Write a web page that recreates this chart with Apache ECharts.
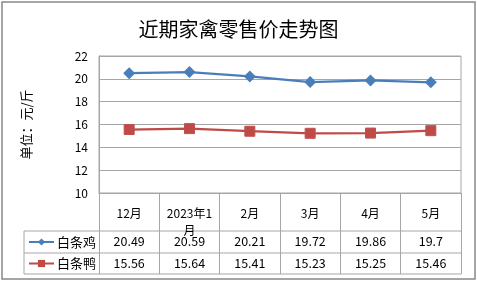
<!DOCTYPE html>
<html><head><meta charset="utf-8">
<script src="https://cdn.jsdelivr.net/npm/echarts@6/dist/echarts.min.js"></script>
<style>html,body{margin:0;padding:0;background:#fff}#c{width:477px;height:283px}</style>
</head><body><div id="c"></div>
<script>
var categories = ['12月', '2023年1\n月', '2月', '3月', '4月', '5月'];
var chicken = [20.49, 20.59, 20.21, 19.72, 19.86, 19.7];
var duck = [15.56, 15.64, 15.41, 15.23, 15.25, 15.46];
var chickenLabels = ['20.49', '20.59', '20.21', '19.72', '19.86', '19.7'];
var duckLabels = ['15.56', '15.64', '15.41', '15.23', '15.25', '15.46'];
var seriesNames = ['白条鸡', '白条鸭'];
var yTicks = [10, 12, 14, 16, 18, 20, 22];

var chart = echarts.init(document.getElementById('c'));
var G = {left: 99, right: 16, top: 56, bottom: 90};
var gridColor = '#a6a6a6';
var font = '"Noto Sans CJK SC", "Liberation Sans", sans-serif';
var tableTop = 193, row1 = 231, row2 = 253, row3 = 274, tableLeft = 24, plotRight = 461;

function hline(y, x1, x2) {
  return {type: 'line', shape: {x1: x1, y1: y, x2: x2, y2: y}, style: {stroke: gridColor, lineWidth: 1}, silent: true};
}
function vline(x, y1, y2) {
  return {type: 'line', shape: {x1: x, y1: y1, x2: x, y2: y2}, style: {stroke: gridColor, lineWidth: 1}, silent: true};
}

var option = {
  animation: false,
  backgroundColor: '#fff',
  title: {
    text: '近期家禽零售价走势图', left: 'center', top: 14,
    textStyle: {fontFamily: font, fontSize: 20, fontWeight: 'normal', color: '#000'}
  },
  legend: {
    orient: 'vertical', left: 28, top: 235, itemGap: 7.5, padding: 0,
    itemWidth: 25, itemHeight: 9,
    data: seriesNames,
    textStyle: {fontFamily: font, fontSize: 13, lineHeight: 14, color: '#000', padding: [0, 0, 0, -2]}
  },
  grid: {left: G.left, right: G.right, top: G.top, bottom: G.bottom, show: true, borderColor: gridColor, borderWidth: 1},
  xAxis: [{
    type: 'category', data: categories, boundaryGap: true,
    axisLine: {lineStyle: {color: gridColor}},
    axisTick: {show: true, interval: 0, length: row3 - tableTop, lineStyle: {color: gridColor}},
    axisLabel: {interval: 0, margin: 12, color: '#000', fontFamily: font, fontSize: 12, lineHeight: 17}
  }, {
    type: 'category', data: chickenLabels, position: 'bottom', offset: row1 - tableTop,
    axisLine: {show: false}, axisTick: {show: false},
    axisLabel: {interval: 0, margin: 4, color: '#000', fontFamily: font, fontSize: 12.5}
  }, {
    type: 'category', data: duckLabels, position: 'bottom', offset: row2 - tableTop,
    axisLine: {show: false}, axisTick: {show: false},
    axisLabel: {interval: 0, margin: 4, color: '#000', fontFamily: font, fontSize: 12.5}
  }],
  yAxis: {
    type: 'value', min: yTicks[0], max: yTicks[yTicks.length - 1], interval: 2,
    name: '单位：元/斤', nameLocation: 'middle', nameGap: 66, nameRotate: 90,
    nameTextStyle: {fontFamily: font, fontSize: 13, color: '#000'},
    axisLine: {show: true, lineStyle: {color: gridColor}},
    axisTick: {show: false},
    axisLabel: {margin: 11, color: '#000', fontFamily: font, fontSize: 12},
    splitLine: {lineStyle: {color: gridColor}}
  },
  series: [{
    name: seriesNames[0], type: 'line', data: chicken,
    symbol: 'diamond', symbolSize: 12,
    itemStyle: {color: '#4a7ebb'}, lineStyle: {color: '#4a7ebb', width: 2.25}
  }, {
    name: seriesNames[1], type: 'line', data: duck,
    symbol: 'rect', symbolSize: 10,
    itemStyle: {color: '#be4b48', borderColor: '#c0504d'}, lineStyle: {color: '#be4b48', width: 2.25}
  }],
  graphic: [
    {type: 'rect', shape: {x: 2, y: 2, width: 473, height: 277}, style: {fill: null, stroke: '#888', lineWidth: 1.5}, silent: true},
    hline(row1, tableLeft, plotRight),
    hline(row2, tableLeft, plotRight),
    hline(row3, tableLeft, plotRight),
    vline(tableLeft, row1, row3)
  ]
};
chart.setOption(option);
</script>
</body></html>
